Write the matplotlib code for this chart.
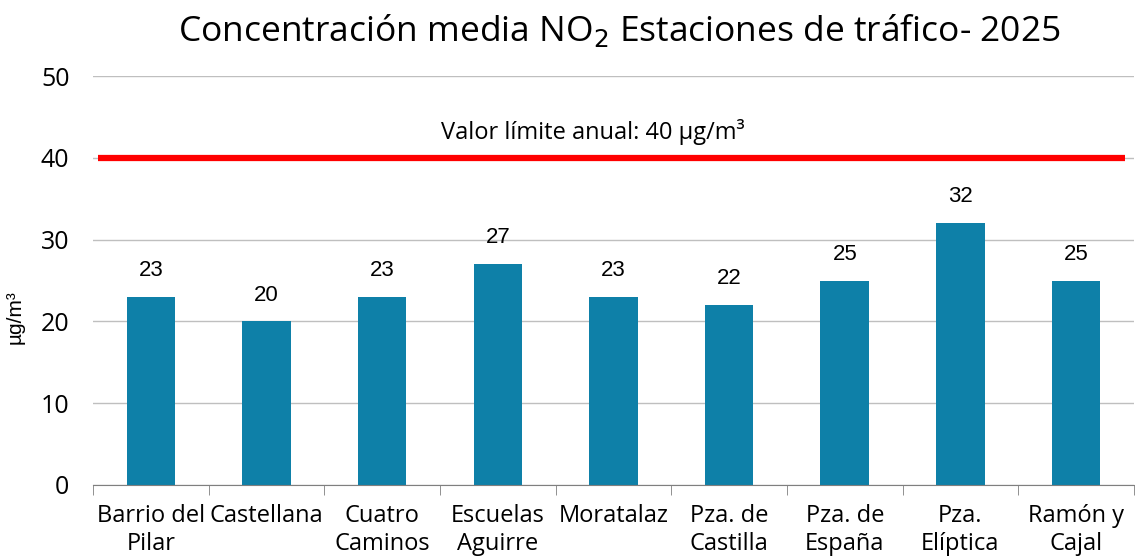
import matplotlib.pyplot as plt
import numpy as np

estaciones = ['Barrio del\nPilar', 'Castellana', 'Cuatro\nCaminos', 'Escuelas\nAguirre',
              'Moratalaz', 'Pza. de\nCastilla', 'Pza. de\nEspaña', 'Pza.\nElíptica', 'Ramón y\nCajal']
no2 = [23, 20, 23, 27, 23, 22, 25, 32, 25]
limite = 40

fig = plt.figure(figsize=(11.35, 5.59), dpi=100)
ax = fig.add_axes([0.082, 0.1324, 0.917, 0.7316])

x = np.arange(len(estaciones))
ax.bar(x, no2, width=0.42, color='#0E80A8', zorder=2)

for xi, v in zip(x, no2):
    ax.annotate(str(v), (xi, v), xytext=(0, 19), textcoords='offset points',
                ha='center', va='center', fontsize=16, family='Liberation Sans')

# línea del valor límite
ax.plot([-0.46, 8.42], [limite, limite], color='#FF0000', lw=4.5, solid_capstyle='butt', zorder=3)
ax.text(3.82, limite + 3.2, 'Valor límite anual: 40 µg/m³', ha='center', va='center',
        fontsize=17, family='Open Sans')

ax.set_xlim(-0.5, len(estaciones) - 0.5)
ax.set_ylim(0, 50)
ax.set_yticks(range(0, 51, 10))
ax.yaxis.grid(True, color='#BFBFBF', lw=1)
ax.set_axisbelow(True)
for s in ['left', 'right', 'top']:
    ax.spines[s].set_visible(False)
ax.spines['bottom'].set_color('#7F7F7F')
ax.tick_params(axis='y', length=0, pad=17, labelsize=18)
ax.set_xticks(x)
ax.set_xticklabels(estaciones, fontsize=17, family='Open Sans', linespacing=1.2)
for lab in ax.get_yticklabels():
    lab.set_family('Open Sans')
ax.tick_params(axis='x', which='major', length=0, pad=14)
ax.set_xticks(np.arange(-0.5, len(estaciones)), minor=True)
ax.tick_params(axis='x', which='minor', length=7, color='#7F7F7F', direction='out')

ax.set_ylabel('µg/m³', fontsize=15, family='Liberation Sans')
ax.yaxis.set_label_coords(-0.066, 0.41)

fig.text(0.546, 0.945, 'Concentración media NO$_2$ Estaciones de tráfico- 2025',
         ha='center', va='center', fontsize=25.5, family='Open Sans')

fig.savefig('out.png', dpi=100)
